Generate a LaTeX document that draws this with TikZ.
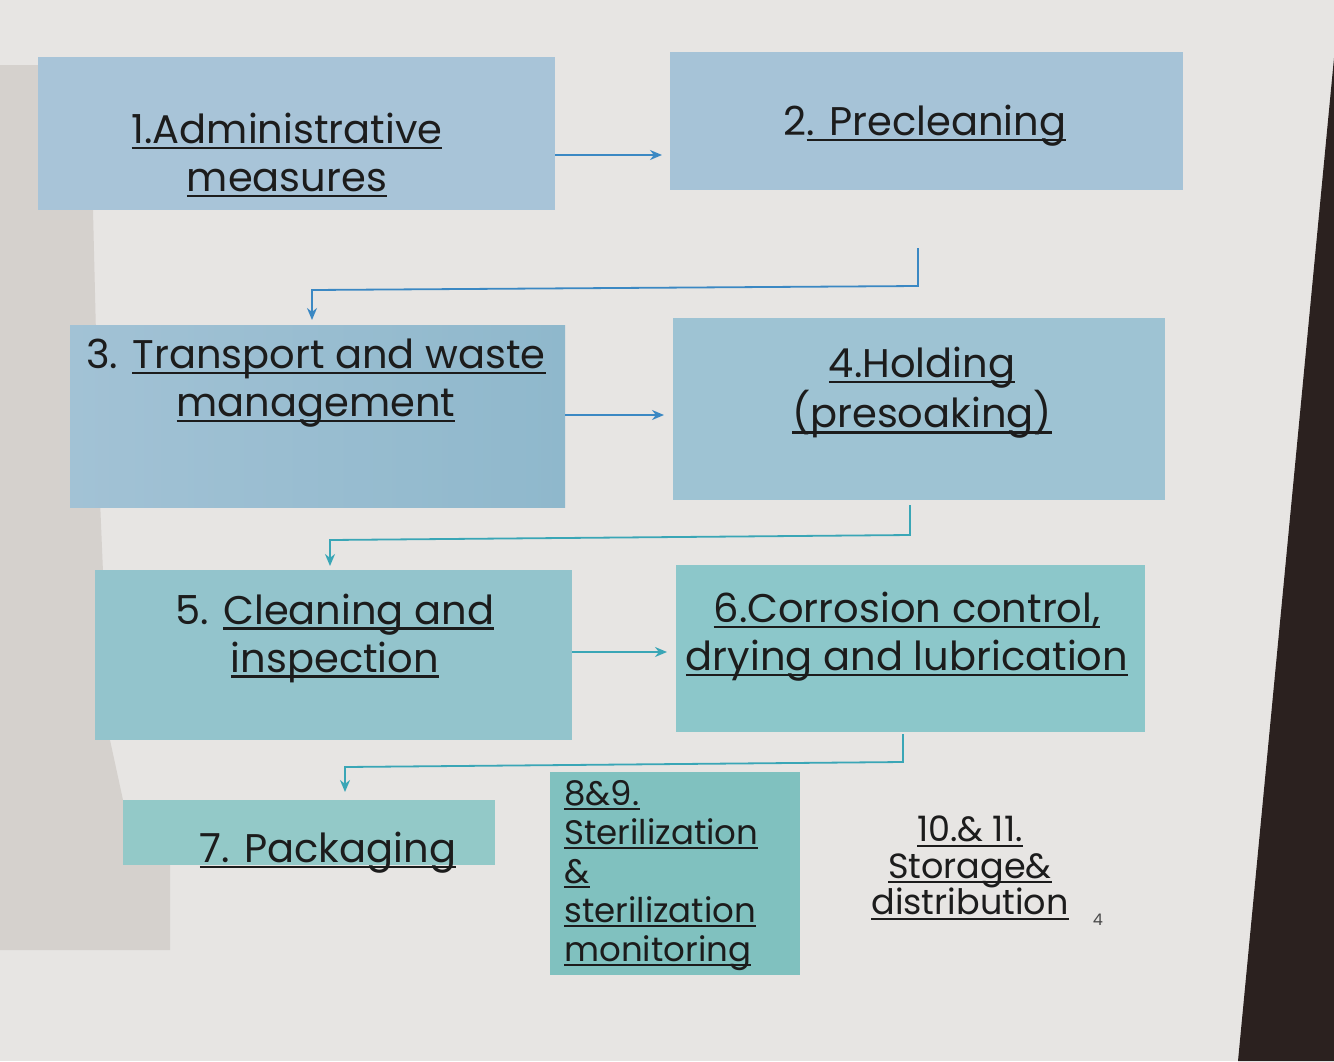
\documentclass[tikz,border=0pt]{standalone}
\usepackage{fontspec}
\setmainfont{Poppins}
\usetikzlibrary{arrows.meta}
\definecolor{bg}{HTML}{E7E5E3}
\definecolor{sidegray}{HTML}{D5D1CD}
\definecolor{bezel}{HTML}{2B211F}
\definecolor{bA}{HTML}{A8C4D8}
\definecolor{bB}{HTML}{A6C3D7}
\definecolor{bC}{HTML}{A2C2D5}
\definecolor{bCr}{HTML}{8FB8CC}
\definecolor{bD}{HTML}{9EC3D3}
\definecolor{bE}{HTML}{93C4CC}
\definecolor{bF}{HTML}{8CC7CA}
\definecolor{bG}{HTML}{93C9C8}
\definecolor{bH}{HTML}{80C1BF}
\definecolor{lnblue}{HTML}{3B88C3}
\definecolor{lnteal}{HTML}{3AA6B6}
\definecolor{ink}{HTML}{1C1C1C}
\newcommand{\ul}[1]{\setbox0=\hbox{#1}\rlap{\rule[-0.14em]{\wd0}{1.1pt}}\box0}
\tikzset{
  x=0.5pt, y=-0.5pt,
  lbl/.style={text=ink, align=center, inner sep=0pt, font=\fontsize{20}{24}\selectfont},
  flow/.style={line width=0.9pt, -{Stealth[length=6pt,width=5pt]}},
}
\begin{document}
\begin{tikzpicture}
\useasboundingbox (0,0) rectangle (1334,1061);
\fill[bg] (0,0) rectangle (1334,1061);
% left side region
\fill[sidegray] (0,65) -- (40,65) -- (40,210) -- (93,210) -- (100,500) -- (110,740) -- (123,800) -- (123,865) -- (170,865) -- (170,950) -- (0,950) -- cycle;
% monitor bezel
\fill[bezel] (1334,58) -- (1334,1061) -- (1238,1061) -- cycle;

% boxes
\fill[bA] (38,57) rectangle (555,210);
\fill[bB] (670,52) rectangle (1183,190);
\fill[left color=bC, right color=bCr] (70,325) rectangle (565,507);
\fill[bD] (673,318) rectangle (1165,500);
\fill[bE] (95,570) rectangle (572,740);
\fill[bF] (676,565) rectangle (1145,732);
\fill[bG] (123,800) rectangle (495,865);
\fill[bH] (550,772) rectangle (800,975);

% anchor points for connectors
\coordinate (b1e) at (555,155);
\coordinate (b2w) at (662,155);
\coordinate (c2) at (918,248);
\coordinate (b3n) at (312,320);
\coordinate (b3e) at (565,415);
\coordinate (b4w) at (664,415);
\coordinate (c4) at (910,505);
\coordinate (b5n) at (330,566);
\coordinate (b5e) at (572,652);
\coordinate (b6w) at (667,652);
\coordinate (c6) at (903,734);
\coordinate (b7n) at (345,792);

% texts
\node[lbl] (t1) at (287,155) {\ul{1.Administrative}\\\ul{measures}};
\node[lbl] (t2) at (925,126) {2\ul{. Precleaning}};
\node[lbl] (t3) at (316,383) {3. \ul{Transport and waste}\\\ul{management}};
\node[lbl] (t4) at (922,393) {\ul{4.Holding}\\\ul{(presoaking)}};
\node[lbl] (t5) at (335,638) {5. \ul{Cleaning and}\\\ul{inspection}};
\node[lbl] (t6) at (907,637) {\ul{6.Corrosion control,}\\\ul{drying and lubrication}};
\node[lbl] (t7) at (328,853) {\ul{7. Packaging}};
\node[lbl, align=left, anchor=north west, font=\fontsize{17}{19.5}\selectfont] (t8) at (564,780) {\ul{8\&9.}\\\ul{Sterilization}\\\ul{\&}\\\ul{sterilization}\\\ul{monitoring}};
\node[lbl, font=\fontsize{17.5}{18.25}\selectfont] (t10) at (970,868) {\ul{10.\& 11.}\\\ul{Storage\&}\\\ul{distribution}};
\node[text=ink!80, inner sep=0pt, font=\fontsize{8}{9}\selectfont] (pg) at (1098,920) {4};

% connectors
\draw[flow, lnblue] (b1e) -- (b2w);
\draw[flow, lnblue] (c2) -- (918,286) -- (312,290) -- (b3n);
\draw[flow, lnblue] (b3e) -- (b4w);
\draw[flow, lnteal] (c4) -- (910,535) -- (330,540) -- (b5n);
\draw[flow, lnteal] (b5e) -- (b6w);
\draw[flow, lnteal] (c6) -- (903,762) -- (345,767) -- (b7n);
\end{tikzpicture}
\end{document}
